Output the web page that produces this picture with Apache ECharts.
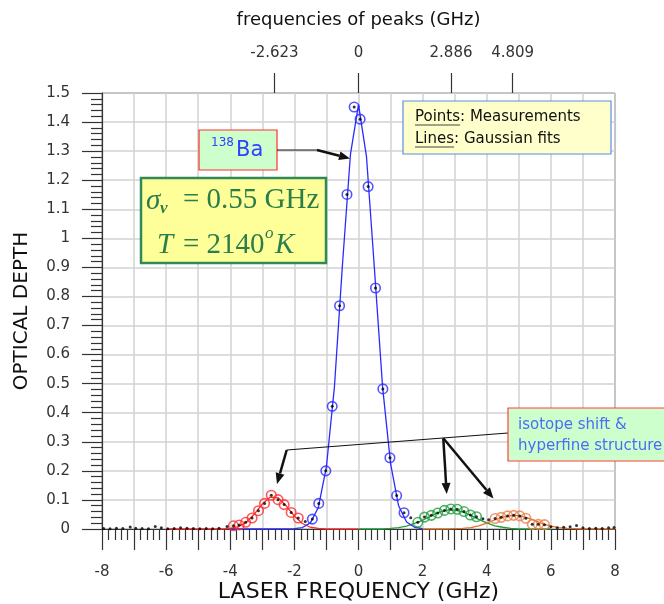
<!DOCTYPE html>
<html>
<head>
<meta charset="utf-8">
<script src="https://cdn.jsdelivr.net/npm/echarts@6/dist/echarts.min.js"></script>
<style>
  html, body { margin: 0; padding: 0; background: #fff; }
  #chart { width: 664px; height: 604px; }
</style>
</head>
<body>
<div id="chart"></div>
<script>
// peak centres, shown on the top axis (GHz)
const peakTicks = [-2.623, 0, 2.886, 4.809];

// measurements [GHz, optical depth], grouped by the fit they are circled for
const ba138Pts = [[-1.44, 0.034], [-1.24, 0.088], [-1.02, 0.200], [-0.82, 0.422], [-0.59, 0.768],
  [-0.36, 1.151], [-0.135, 1.452], [0.05, 1.41], [0.30, 1.178], [0.53, 0.829], [0.76, 0.482],
  [0.98, 0.245], [1.19, 0.115], [1.42, 0.056]];
const redPts = [[-3.90, 0.011], [-3.72, 0.014], [-3.52, 0.023], [-3.32, 0.038], [-3.12, 0.063],
  [-2.93, 0.088], [-2.72, 0.116], [-2.51, 0.101], [-2.32, 0.084], [-2.10, 0.057], [-1.88, 0.038]];
const greenPts = [[1.85, 0.023], [2.06, 0.041], [2.27, 0.047], [2.47, 0.055], [2.68, 0.064],
  [2.88, 0.069], [3.08, 0.068], [3.29, 0.060], [3.49, 0.048], [3.68, 0.042]];
const orangePts = [[4.26, 0.036], [4.45, 0.040], [4.65, 0.045], [4.84, 0.047], [5.03, 0.045],
  [5.22, 0.037], [5.42, 0.016], [5.61, 0.016], [5.80, 0.015]];
// measurements with no circle
const otherPts = [[-7.95, 0.002], [-7.75, 0.001], [-7.55, 0.003], [-7.35, 0.002], [-7.12, 0.007],
  [-6.95, 0.003], [-6.75, 0.002], [-6.55, 0.001], [-6.34, 0.009], [-6.15, 0.004], [-5.95, 0.001],
  [-5.75, 0.002], [-5.55, 0.004], [-5.35, 0.003], [-5.15, 0.002], [-4.95, 0.001], [-4.75, 0.002],
  [-4.55, 0.001], [-4.35, 0.003], [-4.10, 0.009], [-1.66, 0.026], [1.63, 0.039], [3.88, 0.035],
  [4.06, 0.032], [6.00, 0.008], [6.20, 0.004], [6.40, 0.006], [6.60, 0.008], [6.80, 0.012],
  [7.00, 0.004], [7.20, 0.002], [7.40, 0.003], [7.60, 0.002], [7.80, 0.004], [7.97, 0.005]];

// gaussian fit curves [GHz, optical depth]
const ba138Fit = [[-4, 0], [-3, 0], [-2.25, 0], [-2, 0.001], [-1.75, 0.005], [-1.5, 0.021], [-1.25, 0.075],
  [-1, 0.215], [-0.75, 0.49], [-0.5, 0.91], [-0.25, 1.29], [0, 1.46], [0.25, 1.28], [0.5, 0.89],
  [0.75, 0.49], [1, 0.225], [1.25, 0.08], [1.5, 0.024], [1.75, 0.006], [2, 0.001]];
const redFit = [[-6, 0], [-5, 0], [-4.25, 0], [-4, 0.002], [-3.75, 0.008], [-3.5, 0.023], [-3.25, 0.051],
  [-3, 0.086], [-2.75, 0.11], [-2.5, 0.107], [-2.25, 0.079], [-2, 0.045], [-1.75, 0.019],
  [-1.5, 0.006], [-1.25, 0.002], [-1, 0], [0, 0]];
const greenFit = [[0, 0], [0.75, 0], [1, 0.002], [1.25, 0.005], [1.5, 0.010], [1.75, 0.019], [2, 0.030],
  [2.25, 0.044], [2.5, 0.057], [2.75, 0.065], [3, 0.065], [3.25, 0.059], [3.5, 0.047], [3.75, 0.033],
  [4, 0.021], [4.25, 0.011], [4.5, 0.006], [4.75, 0.002], [5, 0], [6, 0]];
const orangeFit = [[2, 0], [2.75, 0], [3, 0.001], [3.25, 0.002], [3.5, 0.005], [3.75, 0.011], [4, 0.020],
  [4.25, 0.031], [4.5, 0.041], [4.75, 0.046], [5, 0.046], [5.25, 0.039], [5.5, 0.029], [5.75, 0.018],
  [6, 0.010], [6.25, 0.005], [6.5, 0.002], [6.75, 0.001], [7, 0], [8, 0]];

const SANS = 'DejaVu Sans';
const SERIF = 'Liberation Serif';
const AXIS_C = '#333';
const BOX_GREEN = '#2b7d4b';

const chart = echarts.init(document.getElementById('chart'), null, { renderer: 'canvas' });

const ctx = document.createElement('canvas').getContext('2d');
function textW(str, font) { ctx.font = font; return ctx.measureText(str).width; }

function fitLine(name, data, color) {
  return {
    name, type: 'line', data, showSymbol: false, z: 2,
    lineStyle: { color, width: 1.3 }, itemStyle: { color }
  };
}
function circles(name, data, color) {
  return {
    name, type: 'scatter', data, symbol: 'circle', symbolSize: 9.5, z: 3,
    itemStyle: { color: 'rgba(0,0,0,0)', borderColor: color, borderWidth: 1.6 }
  };
}

function arrow(x1, y1, x2, y2, w) {
  const a = Math.atan2(y2 - y1, x2 - x1);
  const L = 11, H = 4.5;
  const bx = x2 - L * Math.cos(a), by = y2 - L * Math.sin(a);
  return [
    { type: 'line', shape: { x1, y1, x2: bx, y2: by }, style: { stroke: '#111', lineWidth: w }, z: 10 },
    { type: 'polygon', z: 10, shape: { points: [[x2, y2],
      [bx + H * Math.sin(a), by - H * Math.cos(a)], [bx - H * Math.sin(a), by + H * Math.cos(a)]] },
      style: { fill: '#111' } }
  ];
}
function boxText(x, y, text, font) {
  return { type: 'text', x, y, z: 11, style: { text, font, fill: BOX_GREEN, verticalAlign: 'middle' } };
}

const legFont = '15px "' + SANS + '"';
const serifUp = '29px "' + SERIF + '"';
const serifIt = 'italic 29px "' + SERIF + '"';
const graphics = [
  // legend note
  { type: 'rect', shape: { x: 403, y: 101, width: 208, height: 53 }, z: 10,
    style: { fill: '#ffffcc', stroke: '#5b8ee6', lineWidth: 1.2 } },
  { type: 'text', x: 415, y: 117, z: 11, style: { text: 'Points: Measurements', font: legFont, fill: '#111', verticalAlign: 'middle' } },
  { type: 'text', x: 415, y: 139, z: 11, style: { text: 'Lines: Gaussian fits', font: legFont, fill: '#111', verticalAlign: 'middle' } },
  { type: 'line', z: 11, shape: { x1: 415, y1: 125, x2: 415 + textW('Points', legFont), y2: 125 }, style: { stroke: '#444', lineWidth: 1 } },
  { type: 'line', z: 11, shape: { x1: 415, y1: 147, x2: 415 + textW('Lines', legFont), y2: 147 }, style: { stroke: '#444', lineWidth: 1 } },

  // 138Ba label
  { type: 'rect', shape: { x: 199, y: 130, width: 78, height: 40 }, z: 10,
    style: { fill: '#ccffcc', stroke: '#ff3030', lineWidth: 1.2 } },
  { type: 'text', x: 211, y: 143, z: 11, style: { text: '138', font: '12px "' + SANS + '"', fill: '#3340ff', verticalAlign: 'middle' } },
  { type: 'text', x: 236, y: 151, z: 11, style: { text: 'Ba', font: '21px "' + SANS + '"', fill: '#3340ff', verticalAlign: 'middle' } },
  { type: 'line', z: 10, shape: { x1: 277, y1: 150, x2: 317, y2: 150 }, style: { stroke: '#111', lineWidth: 1 } },
  ...arrow(317, 150, 350, 158.5, 2.5),

  // sigma / temperature box
  { type: 'rect', shape: { x: 141, y: 178, width: 185, height: 85 }, z: 10,
    style: { fill: '#ffff99', stroke: '#2e8b57', lineWidth: 2.5 } },
  boxText(146, 201, 'σ', serifIt),
  boxText(160, 209, 'ν', 'italic bold 17px "' + SERIF + '"'),
  boxText(183, 200, '= 0.55 GHz', serifUp),
  boxText(157, 245, 'T', serifIt),
  boxText(183, 245, '= 2140', serifUp),
  boxText(265, 234, 'o', 'italic 17px "' + SERIF + '"'),
  boxText(275, 245, 'K', serifIt),

  // isotope note
  { type: 'line', z: 10, shape: { x1: 508, y1: 433, x2: 286.7, y2: 450 }, style: { stroke: '#111', lineWidth: 1.2 } },
  ...arrow(286.7, 450, 277, 484, 2.5),
  ...arrow(443.3, 438.3, 446.7, 494, 2.5),
  ...arrow(443.3, 438.3, 493.5, 498.5, 2.5),
  { type: 'rect', shape: { x: 508, y: 408, width: 170, height: 53 }, z: 10,
    style: { fill: '#ccffcc', stroke: '#ff4040', lineWidth: 1.2 } },
  { type: 'text', x: 518, y: 425, z: 11, style: { text: 'isotope shift &', font: '15px "' + SANS + '"', fill: '#4a6cf7', verticalAlign: 'middle' } },
  { type: 'text', x: 518, y: 446, z: 11, style: { text: 'hyperfine structure', font: '15px "' + SANS + '"', fill: '#4a6cf7', verticalAlign: 'middle' } }
];

const option = {
  animation: false,
  backgroundColor: '#fff',
  textStyle: { fontFamily: SANS },
  grid: { left: 102, right: 49, top: 93, bottom: 75, outerBoundsMode: 'none', containLabel: false,
    show: true, borderColor: '#444', borderWidth: 1 },
  xAxis: [{
    type: 'value', min: -8, max: 8, interval: 1, position: 'bottom',
    axisLine: { onZero: false, lineStyle: { color: AXIS_C, width: 1.2 } },
    axisTick: { length: 21, lineStyle: { color: AXIS_C, width: 1.2 } },
    minorTick: { show: true, splitNumber: 5, length: 11, lineStyle: { color: AXIS_C, width: 1.2 } },
    splitLine: { show: true, lineStyle: { color: '#d2d2d2', width: 1.5 } },
    axisLabel: { formatter: v => (v % 2 === 0 ? String(v) : ''), fontSize: 15, color: '#333', margin: 36 },
    name: 'LASER FREQUENCY (GHz)', nameLocation: 'middle', nameGap: 52, nameMoveOverlap: false,
    nameTextStyle: { fontSize: 22, color: '#111' }
  }, {
    type: 'value', min: -8, max: 8, position: 'top',
    axisLine: { show: false, onZero: false },
    axisTick: { show: true, customValues: peakTicks, length: 20, lineStyle: { color: AXIS_C, width: 1.2 } },
    axisLabel: { show: true, customValues: peakTicks, formatter: v => (v === 0 ? '0' : v.toFixed(3)),
      fontSize: 15, color: '#333', margin: 32 },
    splitLine: { show: false },
    name: 'frequencies of peaks (GHz)', nameLocation: 'middle', nameGap: 64, nameMoveOverlap: false,
    nameTextStyle: { fontSize: 18, color: '#111' }
  }],
  yAxis: {
    type: 'value', min: 0, max: 1.5, interval: 0.1,
    axisLine: { onZero: false, lineStyle: { color: AXIS_C, width: 1.2 } },
    axisTick: { length: 20, lineStyle: { color: AXIS_C, width: 1.2 } },
    minorTick: { show: true, splitNumber: 5, length: 11, lineStyle: { color: AXIS_C, width: 1.2 } },
    splitLine: { show: true, lineStyle: { color: '#d2d2d2', width: 1.5 } },
    axisLabel: { formatter: v => String(parseFloat(v.toFixed(1))), fontSize: 15, color: '#333', margin: 32 },
    name: 'OPTICAL DEPTH', nameLocation: 'middle', nameGap: 70, nameMoveOverlap: false,
    nameTextStyle: { fontSize: 20, color: '#111' }
  },
  series: [
    fitLine('red fit', redFit, '#ff2a2a'),
    fitLine('green fit', greenFit, '#1f9d3c'),
    fitLine('orange fit', orangeFit, '#e0702a'),
    fitLine('138Ba fit', ba138Fit, '#2a2aff'),
    circles('red pts', redPts, '#ff2a2a'),
    circles('green pts', greenPts, '#1f9d3c'),
    circles('orange pts', orangePts, '#e8804a'),
    circles('138Ba pts', ba138Pts, '#2a2aff'),
    {
      name: 'measurements', type: 'scatter', symbolSize: 3, z: 4,
      data: [].concat(ba138Pts, redPts, greenPts, orangePts, otherPts),
      itemStyle: { color: '#000' }
    }
  ],
  graphic: graphics
};

chart.setOption(option);
</script>
</body>
</html>
